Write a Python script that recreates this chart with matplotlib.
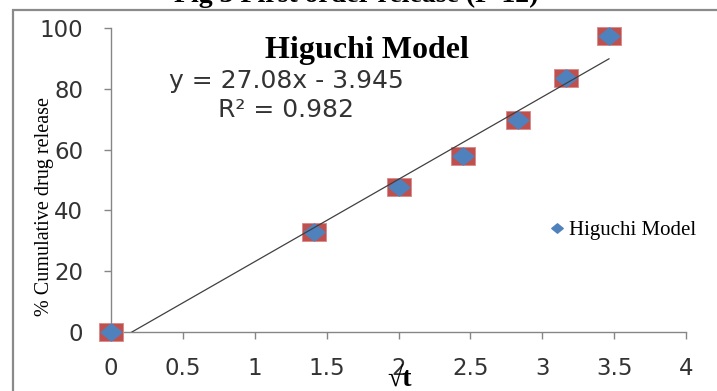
"""
Higuchi model plot: % cumulative drug release vs square root of time.
"""
import matplotlib
matplotlib.use("Agg")
import matplotlib.pyplot as plt
import numpy as np
from matplotlib.path import Path
from matplotlib.patches import Rectangle

# data
sqrt_t = [0, 1.414, 2.0, 2.449, 2.828, 3.162, 3.464]
release = [0, 33.0, 47.7, 57.8, 69.7, 83.5, 97.3]
slope, intercept = 27.08, -3.945
r_squared = 0.982
x_ticks = [0, 0.5, 1, 1.5, 2, 2.5, 3, 3.5, 4]
y_ticks = [0, 20, 40, 60, 80, 100]

RED = "#C0504D"
BLUE = "#4F81BD"
AXIS_GREY = "#868686"
SERIF = ["Liberation Serif", "DejaVu Serif"]

# wide rectangle and diamond markers, like the Excel export
rect_marker = Path([(-1, -0.75), (1, -0.75), (1, 0.75), (-1, 0.75), (-1, -0.75)],
                   closed=True)
diamond_marker = Path([(-1, 0), (0, 0.82), (1, 0), (0, -0.82), (-1, 0)], closed=True)

fig = plt.figure(figsize=(7.17, 3.91), dpi=100)
ax = fig.add_axes([0.1548, 0.1509, 0.802, 0.7775])

# outer chart frame (top-left corner visible, rest cut off)
fig.patches.append(Rectangle((13 / 717, -0.2), 1.2, 1 - 10 / 391 + 0.2,
                             transform=fig.transFigure, fill=False,
                             edgecolor="#8a8a8a", linewidth=1.6, zorder=0))

# caption of the figure, mostly cut off at the top edge
fig.text(356 / 717, 1 - 2.5 / 391, "Fig 3 First order release (F-12)",
         ha="center", va="baseline", fontsize=20, fontweight="bold", family=SERIF)

ax.plot(sqrt_t, release, linestyle="none", marker=rect_marker, markersize=17.5,
        markerfacecolor=RED, markeredgecolor="#d98a88", markeredgewidth=0.6,
        clip_on=False, zorder=3)
ax.plot(sqrt_t, release, linestyle="none", marker=diamond_marker, markersize=15,
        markerfacecolor=BLUE, markeredgecolor=BLUE, clip_on=False, zorder=4,
        label="Higuchi Model")

# linear trendline
x_fit = np.array([0, max(sqrt_t)])
ax.plot(x_fit, slope * x_fit + intercept, color="#404040", linewidth=0.9, zorder=5)

ax.set_xlim(0, 4)
ax.set_ylim(0, 100)
ax.set_xticks(x_ticks)
ax.set_xticklabels([f"{v:g}" for v in x_ticks])
ax.set_yticks(y_ticks)

for side in ("top", "right"):
    ax.spines[side].set_visible(False)
for side in ("left", "bottom"):
    ax.spines[side].set_color(AXIS_GREY)
    ax.spines[side].set_linewidth(1.0)
ax.tick_params(axis="both", colors=AXIS_GREY, length=5, width=1.0,
               labelcolor="#333333", labelsize=16.5)
ax.tick_params(axis="y", pad=15)
ax.tick_params(axis="x", pad=13)

ax.text(0.445, 0.975, "Higuchi Model", transform=ax.transAxes, ha="center",
        va="top", fontsize=23, fontweight="bold", family=SERIF)
ax.text(0.305, 0.825, f"y = {slope:.2f}x - {abs(intercept):.3f}",
        transform=ax.transAxes, ha="center", va="center", fontsize=18,
        color="#333333")
ax.text(0.305, 0.73, f"R² = {r_squared:.3f}", transform=ax.transAxes,
        ha="center", va="center", fontsize=18, color="#333333")

fig.text(45 / 717, 1 - 207 / 391, "% Cumulative drug release", rotation=90,
         ha="center", va="center", fontsize=14.5, family=SERIF)
fig.text(400 / 717, 1 - 379 / 391, "√t", ha="center", va="center",
         fontsize=20, fontweight="bold", family=SERIF)

ax.legend(loc="center left", bbox_to_anchor=(0.732, 0.335), frameon=False,
          markerscale=0.55, handlelength=0.6, handletextpad=0.3,
          prop={"family": SERIF, "size": 15})

plt.savefig("out.png", dpi=100)
plt.close()
